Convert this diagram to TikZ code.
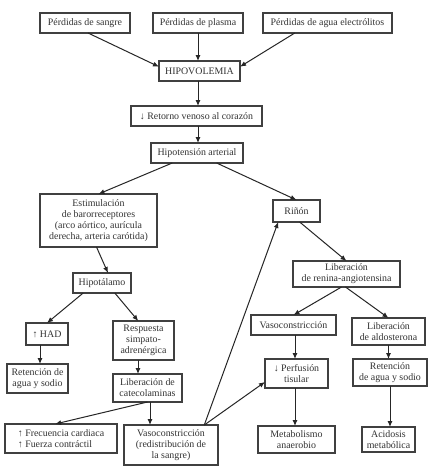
\documentclass[tikz,border=0pt]{standalone}
\usepackage{fontspec}
\setmainfont{Liberation Serif}
\usetikzlibrary{arrows.meta}
\begin{document}
\begin{tikzpicture}[x=1pt,y=-1pt,
  box/.style={draw=black!75, line width=1.2pt, inner sep=0pt, outer sep=0pt,
    align=center, text=black!80, font=\fontsize{9.9}{11}\selectfont},
  arr/.style={draw=black!85, line width=1pt, -{Latex[length=6pt,width=5pt]}}]
\useasboundingbox[fill=white] (0,0) rectangle (435,467);
% boxes
\node[box, minimum width=90pt, minimum height=20pt] (sangre) at (85,23) {Pérdidas de sangre};
\node[box, minimum width=90pt, minimum height=20pt] (plasma) at (198,23) {Pérdidas de plasma};
\node[box, minimum width=129pt, minimum height=20pt] (agua) at (327.5,23) {Pérdidas de agua electrólitos};
\node[box, minimum width=81pt, minimum height=20pt] (hipo) at (199.5,71) {HIPOVOLEMIA};
\node[box, minimum width=131pt, minimum height=20pt] (retorno) at (196.5,116) {↓ Retorno venoso al corazón};
\node[box, minimum width=92pt, minimum height=20pt] (hipot) at (197,153) {Hipotensión arterial};
\node[box, minimum width=117pt, minimum height=53pt] (estim) at (98.5,220.5) {Estimulación\\de barorreceptores\\(arco aórtico, aurícula\\derecha, arteria carótida)};
\node[box, minimum width=58pt, minimum height=20pt] (hipotal) at (102,283) {Hipotálamo};
\node[box, minimum width=47pt, minimum height=22pt] (rinon) at (296.5,211) {Riñón};
\node[box, minimum width=107pt, minimum height=26pt] (renina) at (346.5,274) {Liberación\\de renina-angiotensina};
\node[box, minimum width=42pt, minimum height=22pt] (had) at (47,334) {↑ HAD};
\node[box, minimum width=61pt, minimum height=29pt] (ret1) at (37.5,378.5) {Retención de\\agua y sodio};
\node[box, minimum width=61pt, minimum height=39pt] (resp) at (143.5,340.5) {Respuesta\\simpato-\\adrenérgica};
\node[box, minimum width=69pt, minimum height=28pt] (libcat) at (147.5,388) {Liberación de\\catecolaminas};
\node[box, minimum width=112pt, minimum height=29pt, align=left] (frec) at (61,438.5) {↑ Frecuencia cardiaca\\↑ Fuerza contráctil};
\node[box, minimum width=94pt, minimum height=40pt] (vaso1) at (171,445) {Vasoconstricción\\(redistribución de\\la sangre)};
\node[box, minimum width=85pt, minimum height=20pt] (vaso2) at (293.5,325) {Vasoconstricción};
\node[box, minimum width=73pt, minimum height=27pt] (aldo) at (388.5,331.5) {Liberación\\de aldosterona};
\node[box, minimum width=63pt, minimum height=29pt] (perf) at (296.5,373.5) {↓ Perfusión\\tisular};
\node[box, minimum width=74pt, minimum height=27pt] (ret2) at (390,372.5) {Retención\\de agua y sodio};
\node[box, minimum width=77pt, minimum height=27pt] (meta) at (296.5,439.5) {Metabolismo\\anaerobio};
\node[box, minimum width=53pt, minimum height=25pt] (acid) at (388.5,439.5) {Acidosis\\metabólica};
% connectors
\draw[arr] (sangre.287) -- (hipo.174);
\draw[arr] (plasma.south) -- (plasma.south |- hipo.north);
\draw[arr] (agua.197) -- (hipo.6);
\draw[arr] ([xshift=-1.5pt]hipo.south) -- ([xshift=-1.5pt]hipo.south |- retorno.north);
\draw[arr] ([xshift=1.5pt]retorno.south) -- ([xshift=1.5pt]retorno.south |- hipot.north);
\draw[arr] (hipot.202) -- (estim.north);
\draw[arr] (hipot.333) -- (rinon.north);
\draw[arr] ([xshift=-2pt]estim.south) -- (hipotal.59);
\draw[arr] (hipotal.208) -- (had.north);
\draw[arr] (hipotal.322) -- (resp.105);
\draw[arr] ([xshift=-7pt]had.south) -- ([xshift=-7pt]had.south |- ret1.north);
\draw[arr] ([xshift=-5.5pt]resp.south) -- ([xshift=-5.5pt]resp.south |- libcat.north);
\draw[arr] (libcat.south) -- (frec.112);
\draw[arr] ([xshift=2.5pt]libcat.south) -- ([xshift=2.5pt]libcat.south |- vaso1.north);
\draw[arr] (vaso1.31) -- (rinon.211);
\draw[arr] (vaso1.31) -- (perf.195);
\draw[arr] (rinon.286) -- (renina.north);
\draw[arr] ([xshift=-5pt]renina.south) -- (vaso2.north);
\draw[arr] ([xshift=-1pt]renina.south) -- (aldo.north);
\draw[arr] ([xshift=1.5pt]vaso2.south) -- ([xshift=1.5pt]vaso2.south |- perf.north);
\draw[arr] ([xshift=-1.5pt]perf.south) -- ([xshift=-1.5pt]perf.south |- meta.north);
\draw[arr] (aldo.south) -- (aldo.south |- ret2.north);
\draw[arr] (ret2.south) -- (ret2.south |- acid.north);
\end{tikzpicture}
\end{document}
